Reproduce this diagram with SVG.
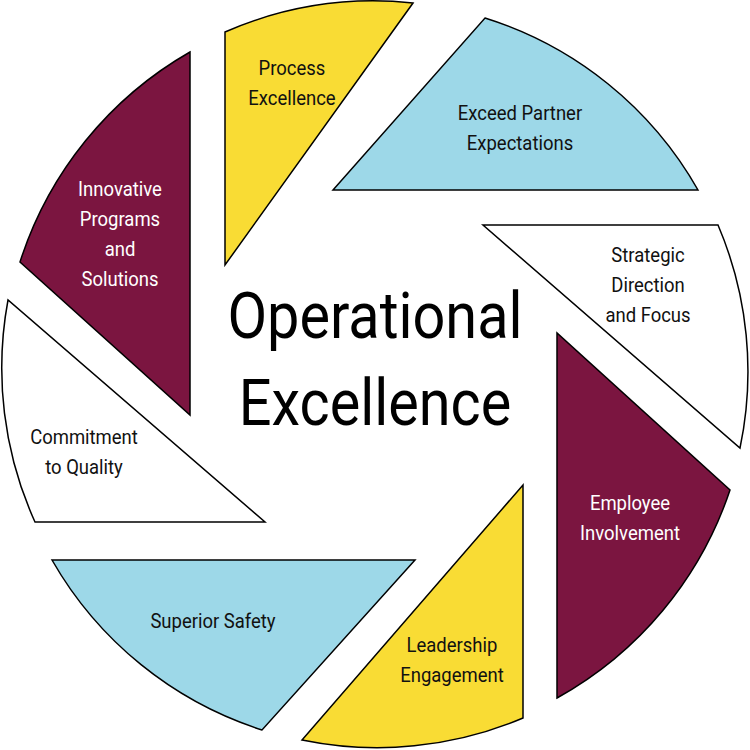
<svg xmlns="http://www.w3.org/2000/svg" width="750" height="750" viewBox="0 0 750 750">
<style>
.s{stroke:#000;stroke-width:1.5;stroke-linejoin:miter}
.y{fill:#F9DC34}.b{fill:#9DD8E8}.m{fill:#7B1540}.w{fill:#fff}
text{font-family:"Roboto","Liberation Sans",sans-serif;font-size:21px;text-anchor:middle}
.lt{fill:#fff}.dk{fill:#111}
.t{font-size:64px;fill:#000}
</style>
<rect width="750" height="750" fill="#fff"/>
<g id="process"><path class="s y" d="M225,32 A373,373 0 0 1 413,3 L225,265 Z"/><text class="dk" x="292" y="75" transform="translate(292 0) scale(0.88 1) translate(-292 0)">Process</text><text class="dk" x="292" y="105" transform="translate(292 0) scale(0.88 1) translate(-292 0)">Excellence</text></g>
<g id="partner"><path class="s b" d="M485,18 A373,373 0 0 1 698,190 L333,190 Z"/><text class="dk" x="520" y="120" transform="translate(520 0) scale(0.88 1) translate(-520 0)">Exceed Partner</text><text class="dk" x="520" y="150" transform="translate(520 0) scale(0.88 1) translate(-520 0)">Expectations</text></g>
<g id="strategic"><path class="s w" d="M718,225 A373,373 0 0 1 740,448 L483,225 Z"/><text class="dk" x="648" y="262" transform="translate(648 0) scale(0.88 1) translate(-648 0)">Strategic</text><text class="dk" x="648" y="292" transform="translate(648 0) scale(0.88 1) translate(-648 0)">Direction</text><text class="dk" x="648" y="322" transform="translate(648 0) scale(0.88 1) translate(-648 0)">and Focus</text></g>
<g id="employee"><path class="s m" d="M730,490 A373,373 0 0 1 557,698 L557,333 Z"/><text class="lt" x="630" y="510" transform="translate(630 0) scale(0.88 1) translate(-630 0)">Employee</text><text class="lt" x="630" y="540" transform="translate(630 0) scale(0.88 1) translate(-630 0)">Involvement</text></g>
<g id="leadership"><path class="s y" d="M523,718 A373,373 0 0 1 302,740 L523,485 Z"/><text class="dk" x="452" y="652" transform="translate(452 0) scale(0.88 1) translate(-452 0)">Leadership</text><text class="dk" x="452" y="682" transform="translate(452 0) scale(0.88 1) translate(-452 0)">Engagement</text></g>
<g id="safety"><path class="s b" d="M262,730 A373,373 0 0 1 52,560 L415,560 Z"/><text class="dk" x="213" y="628" transform="translate(213 0) scale(0.88 1) translate(-213 0)">Superior Safety</text></g>
<g id="quality"><path class="s w" d="M35,522 A373,373 0 0 1 8,300 L265,522 Z"/><text class="dk" x="84" y="444" transform="translate(84 0) scale(0.88 1) translate(-84 0)">Commitment</text><text class="dk" x="84" y="474" transform="translate(84 0) scale(0.88 1) translate(-84 0)">to Quality</text></g>
<g id="innovative"><path class="s m" d="M20,262 A373,373 0 0 1 190,52 L190,415 Z"/><text class="lt" x="120" y="196" transform="translate(120 0) scale(0.88 1) translate(-120 0)">Innovative</text><text class="lt" x="120" y="226" transform="translate(120 0) scale(0.88 1) translate(-120 0)">Programs</text><text class="lt" x="120" y="256" transform="translate(120 0) scale(0.88 1) translate(-120 0)">and</text><text class="lt" x="120" y="286" transform="translate(120 0) scale(0.88 1) translate(-120 0)">Solutions</text></g>
<g id="center"><text class="t" x="375" y="338" transform="translate(375 0) scale(0.9 1) translate(-375 0)">Operational</text><text class="t" x="375" y="425" transform="translate(375 0) scale(0.9 1) translate(-375 0)">Excellence</text></g>
<g id="connectors"/>
</svg>
